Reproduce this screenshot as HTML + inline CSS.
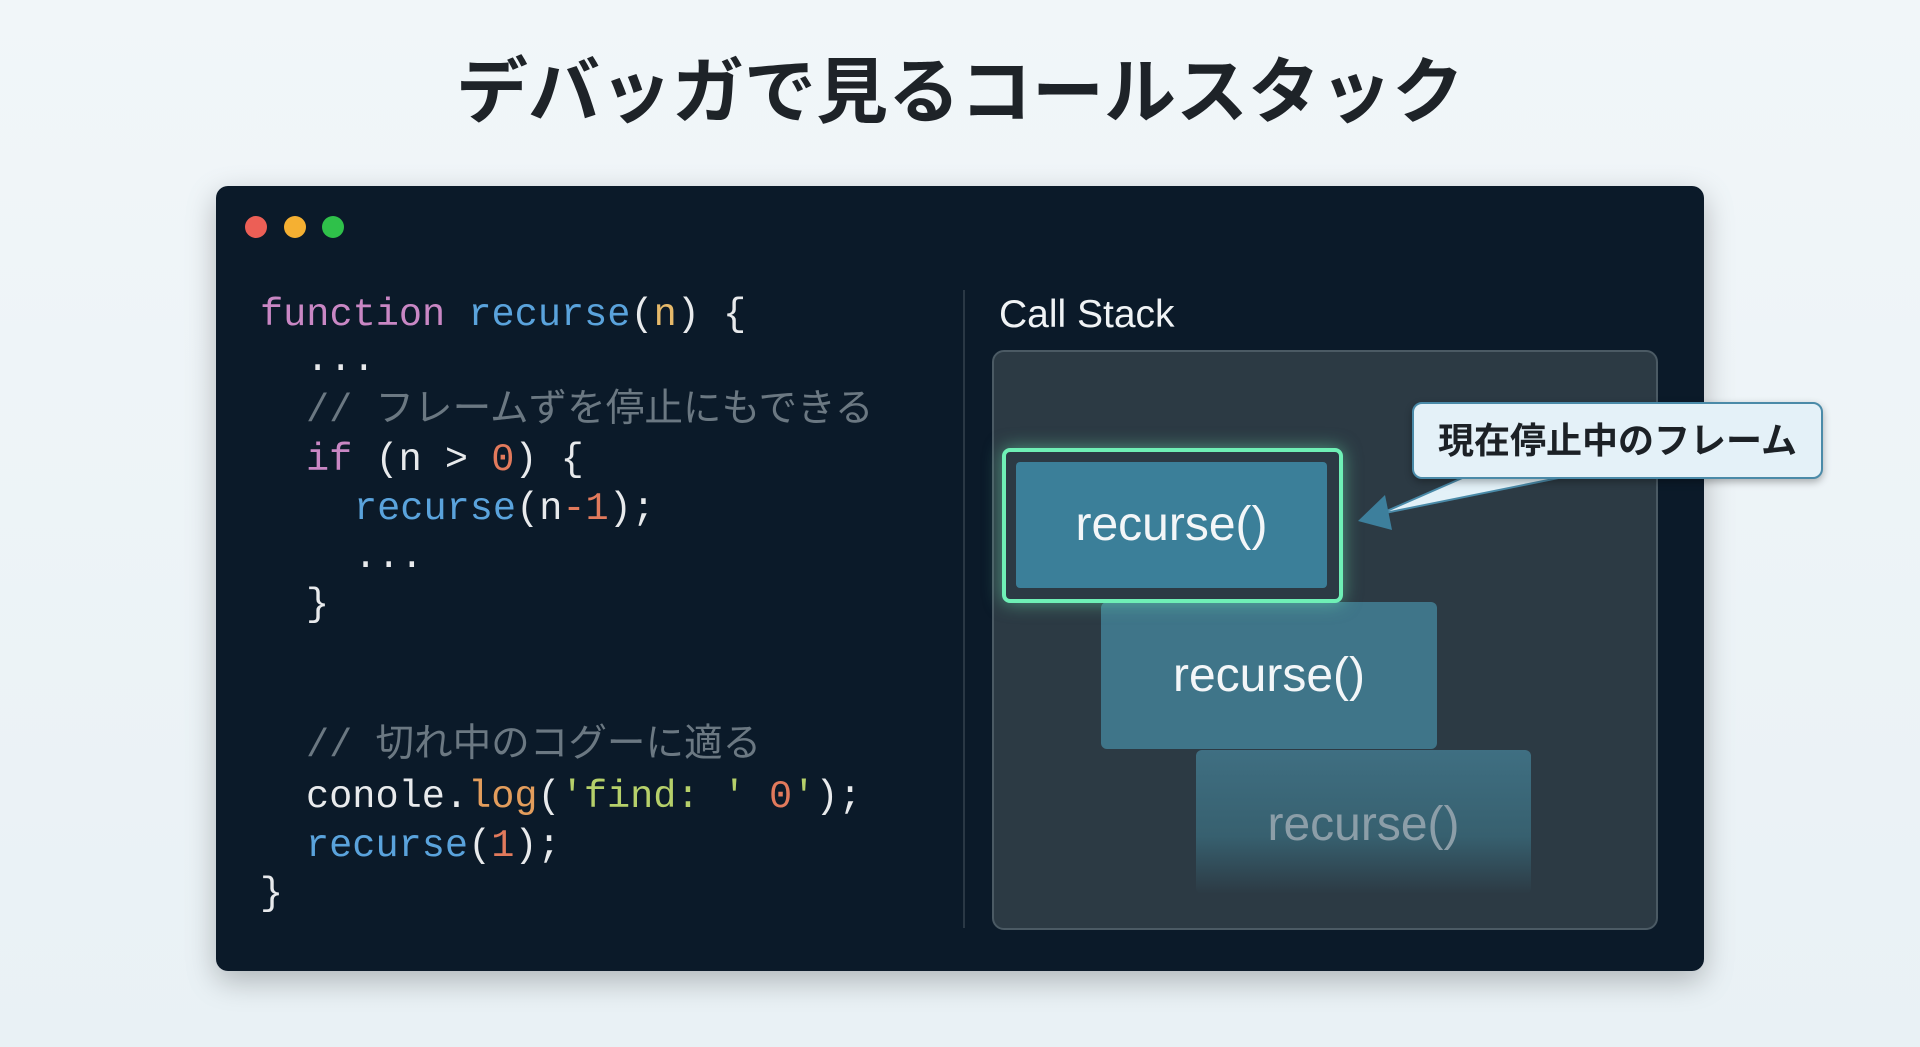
<!DOCTYPE html>
<html><head><meta charset="utf-8"><style>
html,body{margin:0;padding:0}
body{width:1920px;height:1047px;overflow:hidden;background:linear-gradient(180deg,#f1f6f9,#e9f1f5);position:relative;font-family:"Liberation Sans","Noto Sans CJK JP",sans-serif}
.title{position:absolute;left:0;width:1920px;top:48px;text-align:center;font-size:72px;font-weight:bold;color:#1e2328;line-height:90px;font-family:"Liberation Sans","Noto Sans CJK JP",sans-serif}
.panel{position:absolute;left:216px;top:186px;width:1488px;height:785px;background:#0b1a29;border-radius:12px;box-shadow:0 10px 30px rgba(0,0,0,.25)}
.dot{position:absolute;top:216px;width:22px;height:22px;border-radius:50%}
.code{position:absolute;font-family:"Liberation Mono","Noto Sans CJK JP",monospace;font-size:38.6px;line-height:48px;color:#e8eaec;white-space:pre}
.kw{color:#c987c4}.fn{color:#5aa3dc}.pa{color:#e6b96a}.nu{color:#e27a5c}.cm{color:#6b7882}.st{color:#b6d06a}.lg{color:#e39d5c}
.divider{position:absolute;left:963px;top:290px;width:2px;height:638px;background:#2a3845}
.cs{position:absolute;left:999px;top:292px;font-size:39px;color:#f0f3f5;line-height:46px}
.box{position:absolute;left:992px;top:350px;width:662px;height:576px;background:#2c3a44;border:2px solid #4b5a64;border-radius:12px}
.fr{position:absolute;color:#f3f6f8;font-size:48px;text-align:center;border-radius:6px}
</style></head><body>
<div class="title">デバッガで見るコールスタック</div>
<div class="panel"></div>
<div class="dot" style="left:245px;background:#ec5f56"></div>
<div class="dot" style="left:284px;background:#f5b032"></div>
<div class="dot" style="left:322px;background:#2fc14a"></div>

<div class="code" style="left:260px;top:291px"><span class="kw">function</span> <span class="fn">recurse</span>(<span class="pa">n</span>) {</div>
<div class="code" style="left:306px;top:336px">...</div>
<div class="code cm" style="left:306px;top:387px">// フレームずを停止にもできる</div>
<div class="code" style="left:306px;top:436px"><span class="kw">if</span> (n &gt; <span class="nu">0</span>) {</div>
<div class="code" style="left:354px;top:485px"><span class="fn">recurse</span>(n<span class="nu">-1</span>);</div>
<div class="code" style="left:354px;top:533px">...</div>
<div class="code" style="left:306px;top:581px">}</div>
<div class="code cm" style="left:306px;top:722px">// 切れ中のコグーに適る</div>
<div class="code" style="left:306px;top:773px">conole.<span class="lg">log</span>(<span class="st">'find: '</span> <span class="nu">0</span><span class="st">'</span>);</div>
<div class="code" style="left:306px;top:822px"><span class="fn">recurse</span>(<span class="nu">1</span>);</div>
<div class="code" style="left:260px;top:870px">}</div>

<div class="divider"></div>
<div class="cs">Call Stack</div>
<div class="box"></div>

<div class="fr" style="left:1196px;top:750px;width:335px;height:144px;background:linear-gradient(180deg,#3f6f82 0%,#37606f 60%,rgba(44,58,68,0.6) 100%);line-height:150px;color:#8c9ea8">recurse()</div>
<div class="fr" style="left:1101px;top:602px;width:336px;height:147px;background:#3f7589;line-height:147px">recurse()</div>
<div style="position:absolute;left:1002px;top:448px;width:333px;height:147px;border:4px solid #6ff0b6;border-radius:8px;box-shadow:0 0 18px rgba(111,240,182,.5)"></div>
<div class="fr" style="left:1016px;top:462px;width:311px;height:126px;background:#3b7f99;line-height:126px;border-radius:4px">recurse()</div>

<svg style="position:absolute;left:0;top:0" width="1920" height="1047">
<polygon points="1476,472 1588,472 1380,514" fill="#e3f1f8" stroke="#4a8aa8" stroke-width="2" stroke-linejoin="round"/>
<polygon points="1358,521 1385,495 1392,530" fill="#3d7f9c"/>
</svg>
<div style="position:absolute;left:1412px;top:402px;width:407px;height:73px;background:#e4f1f8;border:2px solid #4a8aa8;border-radius:10px;box-shadow:0 3px 8px rgba(0,0,0,.3)"></div>
<div style="position:absolute;left:1412px;top:402px;width:411px;height:77px;line-height:77px;text-align:center;font-size:36px;font-weight:bold;color:#1c2126">現在停止中のフレーム</div>
</body></html>
